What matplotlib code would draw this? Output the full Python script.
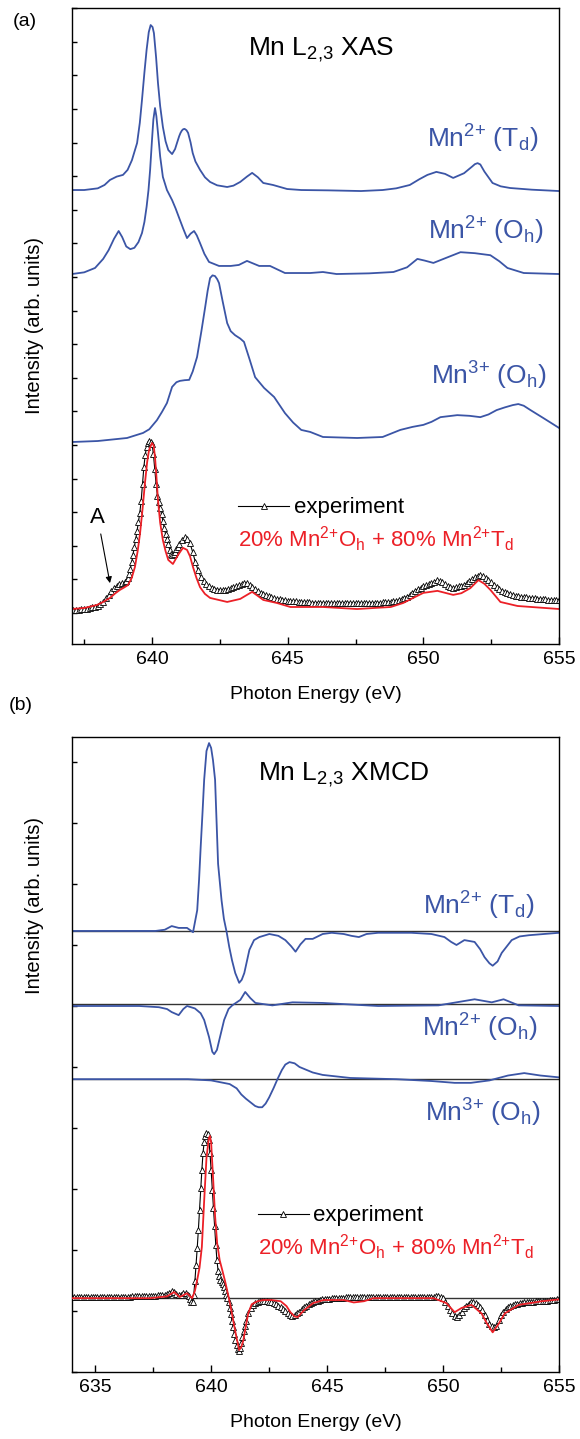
import numpy as np
import matplotlib
matplotlib.use("Agg")
import matplotlib.pyplot as plt
from matplotlib.ticker import MultipleLocator
from matplotlib.lines import Line2D

plt.rcParams['font.family'] = ['Liberation Sans', 'DejaVu Sans']
plt.rcParams['mathtext.fontset'] = 'custom'
plt.rcParams['mathtext.rm'] = 'Liberation Sans'
plt.rcParams['mathtext.it'] = 'Liberation Sans:italic'
plt.rcParams['mathtext.bf'] = 'Liberation Sans:bold'

BLUE = '#3b55a6'
RED = '#ec2027'

# ---------------- (a) Mn L2,3 XAS ----------------
# energies in eV, intensities in arb. units above each curve's own baseline
e_td_a = [637.0, 637.5, 638.0, 638.25, 638.45, 638.7, 638.93, 639.1, 639.26, 639.45,
          639.55, 639.63, 639.72, 639.8, 639.88, 639.95, 640.02, 640.07, 640.15, 640.22,
          640.3, 640.4, 640.5, 640.6, 640.74, 640.85, 640.92, 641.0, 641.05, 641.1,
          641.15, 641.2, 641.27, 641.33, 641.42, 641.5, 641.6, 641.77, 641.95, 642.14,
          642.4, 642.77, 643.0, 643.25, 643.5, 643.69, 643.9, 644.1, 644.46, 644.98,
          645.5, 646.5, 647.7, 648.5, 649.0, 649.5, 649.85, 650.15, 650.48, 650.8,
          651.1, 651.5, 651.8, 651.9, 652.0, 652.1, 652.25, 652.55, 652.85, 653.2,
          654.0, 655.0]
i_td_a = [0.0, 0.0, 0.05, 0.15, 0.30, 0.40, 0.45, 0.6, 0.89, 1.40,
          2.0, 2.68, 3.5, 4.17, 4.7, 4.91, 4.85, 4.67, 3.95, 3.18,
          2.5, 1.88, 1.45, 1.19, 1.07, 1.22, 1.40, 1.6, 1.7, 1.77,
          1.81, 1.82, 1.78, 1.70, 1.42, 1.10, 0.85, 0.60, 0.38, 0.24,
          0.14, 0.09, 0.13, 0.24, 0.40, 0.51, 0.38, 0.21, 0.15, 0.03,
          0.0, -0.01, -0.03, 0.0, 0.05, 0.15, 0.32, 0.45, 0.54, 0.48,
          0.36, 0.5, 0.7, 0.77, 0.80, 0.76, 0.55, 0.21, 0.11, 0.06,
          0.01, -0.03]

e_oh_a = [637.05, 637.5, 637.9, 638.2, 638.4, 638.6, 638.77, 638.9, 639.05, 639.2,
          639.35, 639.5, 639.63, 639.72, 639.8, 639.87, 639.93, 640.0, 640.05, 640.11,
          640.16, 640.22, 640.3, 640.4, 640.55, 640.74, 640.87, 641.0, 641.15, 641.29,
          641.42, 641.55, 641.65, 641.77, 641.93, 642.1, 642.47, 642.9, 643.2, 643.5,
          643.95, 644.35, 644.9, 645.83, 646.3, 646.8, 648.0, 648.9, 649.4, 649.78,
          650.05, 650.37, 650.9, 651.37, 651.9, 652.47, 652.8, 653.1, 653.7, 655.0]
i_oh_a = [0.0, 0.05, 0.18, 0.45, 0.71, 1.05, 1.28, 1.1, 0.82, 0.74,
          0.78, 0.95, 1.22, 1.55, 2.0, 2.5, 3.10, 4.0, 4.6, 4.94,
          4.7, 4.20, 3.5, 2.89, 2.5, 2.2, 1.95, 1.67, 1.35, 1.07,
          1.2, 1.28, 1.15, 0.92, 0.6, 0.36, 0.24, 0.24, 0.27, 0.39,
          0.24, 0.24, 0.03, 0.03, 0.06, 0.0, 0.02, 0.06, 0.2, 0.45,
          0.4, 0.33, 0.5, 0.65, 0.62, 0.56, 0.38, 0.18, 0.03, 0.0]

e_m3_a = [637.05, 638.0, 639.08, 639.67, 639.9, 640.18, 640.37, 640.55, 640.74, 640.9,
          641.03, 641.2, 641.37, 641.5, 641.66, 641.82, 641.96, 642.05, 642.14, 642.23,
          642.32, 642.4, 642.47, 642.6, 642.77, 642.9, 643.06, 643.25, 643.39, 643.6,
          643.8, 644.13, 644.5, 644.9, 645.2, 645.5, 645.83, 646.3, 647.56, 648.5,
          649.15, 649.6, 650.0, 650.3, 650.63, 651.25, 651.7, 652.1, 652.4, 652.7,
          653.0, 653.3, 653.5, 653.7, 653.95, 654.43, 655.0]
i_m3_a = [0.0, 0.03, 0.12, 0.27, 0.38, 0.65, 0.9, 1.16, 1.64, 1.78,
          1.82, 1.84, 1.85, 2.1, 2.53, 3.3, 4.02, 4.5, 4.88, 4.96,
          4.94, 4.85, 4.73, 4.2, 3.54, 3.3, 3.18, 3.08, 2.98, 2.45,
          1.93, 1.61, 1.34, 0.86, 0.58, 0.36, 0.30, 0.15, 0.12, 0.15,
          0.36, 0.45, 0.51, 0.6, 0.74, 0.80, 0.78, 0.74, 0.82, 0.95,
          1.03, 1.10, 1.13, 1.08, 0.95, 0.71, 0.42]

e_exp_a = [637.0, 637.1, 637.2, 637.3, 637.4, 637.5, 637.6, 637.7, 637.8, 637.9,
           638.0, 638.1, 638.2, 638.3, 638.4, 638.5, 638.6, 638.7, 638.8, 638.9,
           639.0, 639.05, 639.1, 639.15, 639.2, 639.25, 639.3, 639.35, 639.4, 639.45,
           639.5, 639.55, 639.6, 639.65, 639.7, 639.75, 639.8, 639.85, 639.9, 639.95,
           640.0, 640.05, 640.1, 640.15, 640.2, 640.25, 640.3, 640.35, 640.4, 640.45,
           640.5, 640.55, 640.6, 640.65, 640.7, 640.75, 640.8, 640.85, 640.9, 640.95,
           641.0, 641.1, 641.2, 641.3, 641.4, 641.5, 641.6, 641.7, 641.8, 641.9,
           642.0, 642.1, 642.2, 642.3, 642.4, 642.5, 642.6, 642.7, 642.8, 642.9,
           643.0, 643.1, 643.2, 643.3, 643.4, 643.5, 643.6, 643.7, 643.8, 643.9,
           644.0, 644.1, 644.2, 644.3, 644.4, 644.5, 644.6, 644.7, 644.8, 644.9,
           645.0, 645.1, 645.2, 645.3, 645.4, 645.5, 645.6, 645.7, 645.8, 645.9,
           646.0, 646.1, 646.2, 646.3, 646.4, 646.5, 646.6, 646.7, 646.8, 646.9,
           647.0, 647.1, 647.2, 647.3, 647.4, 647.5, 647.6, 647.7, 647.8, 647.9,
           648.0, 648.1, 648.2, 648.3, 648.4, 648.5, 648.6, 648.7, 648.8, 648.9,
           649.0, 649.1, 649.2, 649.3, 649.4, 649.5, 649.6, 649.7, 649.8, 649.9,
           650.0, 650.1, 650.2, 650.3, 650.4, 650.5, 650.6, 650.7, 650.8, 650.9,
           651.0, 651.1, 651.2, 651.3, 651.4, 651.5, 651.6, 651.7, 651.8, 651.9,
           652.0, 652.1, 652.2, 652.3, 652.4, 652.5, 652.6, 652.7, 652.8, 652.9,
           653.0, 653.1, 653.2, 653.3, 653.4, 653.5, 653.6, 653.7, 653.8, 653.9,
           654.0, 654.1, 654.2, 654.3, 654.4, 654.5, 654.6, 654.7, 654.8, 654.9,
           655.0]
i_exp_a = [0.00, 0.00, 0.01, 0.01, 0.02, 0.03, 0.04, 0.06, 0.08, 0.10,
           0.13, 0.18, 0.25, 0.35, 0.45, 0.56, 0.65, 0.72, 0.76, 0.79,
           0.82, 0.87, 0.95, 1.06, 1.22, 1.42, 1.65, 1.88, 2.12, 2.36,
           2.62, 2.90, 3.25, 3.75, 4.26, 4.62, 4.85, 4.98, 5.02, 5.01,
           4.95, 4.65, 4.20, 3.75, 3.40, 3.20, 3.05, 2.85, 2.65, 2.45,
           2.25, 2.10, 1.95, 1.80, 1.68, 1.64, 1.66, 1.74, 1.82, 1.89,
           1.95, 2.08, 2.16, 2.12, 1.99, 1.72, 1.42, 1.18, 0.98, 0.85,
           0.76, 0.71, 0.67, 0.64, 0.61, 0.60, 0.60, 0.61, 0.63, 0.65,
           0.68, 0.71, 0.74, 0.77, 0.80, 0.79, 0.75, 0.69, 0.63, 0.57,
           0.52, 0.48, 0.44, 0.41, 0.38, 0.35, 0.33, 0.32, 0.30, 0.29,
           0.28, 0.27, 0.26, 0.26, 0.25, 0.24, 0.24, 0.23, 0.23, 0.22,
           0.22, 0.22, 0.21, 0.21, 0.21, 0.21, 0.21, 0.21, 0.21, 0.21,
           0.21, 0.21, 0.21, 0.21, 0.21, 0.21, 0.21, 0.21, 0.21, 0.21,
           0.22, 0.22, 0.22, 0.22, 0.22, 0.23, 0.23, 0.24, 0.25, 0.26,
           0.28, 0.30, 0.33, 0.37, 0.40, 0.45, 0.52, 0.58, 0.62, 0.66,
           0.70, 0.73, 0.76, 0.80, 0.84, 0.89, 0.87, 0.82, 0.77, 0.72,
           0.68, 0.67, 0.68, 0.70, 0.72, 0.75, 0.80, 0.86, 0.92, 0.98,
           1.02, 1.03, 1.00, 0.95, 0.88, 0.82, 0.75, 0.69, 0.63, 0.58,
           0.55, 0.51, 0.49, 0.46, 0.43, 0.41, 0.40, 0.39, 0.38, 0.37,
           0.36, 0.35, 0.34, 0.33, 0.32, 0.32, 0.31, 0.31, 0.30, 0.30,
           0.30]

e_fit_a = [637.05, 637.5, 637.97, 638.2, 638.45, 638.65, 638.82, 638.95, 639.11, 639.25,
           639.37, 639.47, 639.56, 639.65, 639.74, 639.82, 639.89, 640.0, 640.06, 640.11,
           640.16, 640.22, 640.3, 640.4, 640.5, 640.6, 640.77, 640.96, 641.14, 641.29,
           641.4, 641.51, 641.64, 641.77, 641.95, 642.14, 642.77, 643.25, 643.5, 643.69,
           643.9, 644.1, 644.6, 645.1, 646.3, 647.56, 648.8, 649.26, 649.6, 650.0,
           650.52, 651.1, 651.4, 651.73, 652.03, 652.25, 652.47, 652.84, 653.47, 655.0]
i_fit_a = [0.03, 0.06, 0.15, 0.24, 0.36, 0.5, 0.6, 0.66, 0.74, 0.95,
           1.28, 1.75, 2.29, 3.0, 3.78, 4.4, 4.76, 4.97, 4.9, 4.55,
           4.0, 3.27, 2.6, 2.08, 1.75, 1.49, 1.37, 1.64, 1.85, 1.79,
           1.6, 1.28, 0.95, 0.68, 0.48, 0.36, 0.24, 0.33, 0.45, 0.54,
           0.42, 0.30, 0.21, 0.09, 0.09, 0.03, 0.09, 0.21, 0.35, 0.51,
           0.57, 0.45, 0.5, 0.65, 0.89, 0.78, 0.60, 0.24, 0.12, 0.03]

# vertical offsets of the stacked spectra
off_td_a, off_oh_a, off_m3_a, off_exp_a = 12.59, 10.09, 5.09, 0.09

# ---------------- (b) Mn L2,3 XMCD ----------------
e_td_b = [634.0, 636.0, 637.6, 638.0, 638.3, 638.6, 638.96, 639.22, 639.4, 639.48,
          639.55, 639.63, 639.7, 639.8, 639.91, 640.0, 640.08, 640.17, 640.3, 640.45,
          640.55, 640.67, 640.78, 640.9, 641.04, 641.21, 641.32, 641.43, 641.65, 641.85,
          642.08, 642.51, 642.9, 643.2, 643.45, 643.64, 643.85, 644.07, 644.38, 644.81,
          645.2, 645.72, 646.05, 646.37, 646.7, 647.2, 648.63, 649.5, 650.06, 650.35,
          650.58, 650.92, 651.36, 651.6, 651.79, 652.0, 652.14, 652.35, 652.53, 652.96,
          653.3, 653.7, 655.0]
i_td_b = [0.0, 0.0, 0.0, 0.02, 0.08, 0.05, 0.05, -0.02, 0.34, 0.84,
          1.38, 1.95, 2.48, 2.95, 3.08, 3.0, 2.8, 2.48, 1.1, 0.5,
          0.2, -0.02, -0.26, -0.48, -0.69, -0.85, -0.8, -0.69, -0.31, -0.15,
          -0.1, -0.05, -0.08, -0.15, -0.25, -0.34, -0.22, -0.13, -0.13, -0.05,
          -0.03, -0.05, -0.08, -0.1, -0.05, -0.03, -0.03, -0.05, -0.1, -0.18,
          -0.23, -0.15, -0.18, -0.3, -0.43, -0.53, -0.57, -0.5, -0.36, -0.15,
          -0.09, -0.07, -0.03]

e_oh_b = [634.0, 636.9, 637.75, 638.1, 638.3, 638.6, 638.8, 638.96, 639.3, 639.55,
          639.7, 639.91, 640.05, 640.13, 640.25, 640.35, 640.56, 640.75, 640.91, 641.26,
          641.47, 641.69, 641.91, 642.64, 643.51, 644.81, 647.2, 649.8, 651.36, 652.1,
          652.61, 653.26, 655.0]
i_oh_b = [-0.03, -0.03, -0.05, -0.08, -0.13, -0.18, -0.08, -0.03, -0.07, -0.15,
          -0.26, -0.54, -0.78, -0.82, -0.75, -0.59, -0.26, -0.08, -0.02, 0.07,
          0.2, 0.10, 0.02, -0.02, 0.03, 0.02, -0.03, -0.02, 0.08, 0.03,
          0.08, -0.02, -0.03]

e_m3_b = [634.0, 637.0, 639.0, 640.0, 640.8, 641.1, 641.3, 641.5, 641.7, 641.9,
          642.05, 642.2, 642.35, 642.5, 642.7, 642.86, 643.05, 643.2, 643.38, 643.6,
          643.81, 644.38, 644.81, 646.0, 648.0, 649.5, 650.5, 651.2, 652.0, 652.8,
          653.5, 654.2, 655.0]
i_m3_b = [0.0, 0.0, 0.0, -0.02, -0.08, -0.15, -0.25, -0.32, -0.38, -0.44,
          -0.46, -0.46, -0.4, -0.3, -0.14, 0.0, 0.15, 0.24, 0.28, 0.26,
          0.2, 0.11, 0.07, 0.02, 0.0, -0.03, -0.06, -0.06, -0.02, 0.06,
          0.1, 0.06, 0.03]

e_exp_b = [634.0, 634.1, 634.2, 634.3, 634.4, 634.5, 634.6, 634.7, 634.8, 634.9,
           635.0, 635.1, 635.2, 635.3, 635.4, 635.5, 635.6, 635.7, 635.8, 635.9,
           636.0, 636.1, 636.2, 636.3, 636.4, 636.5, 636.6, 636.7, 636.8, 636.9,
           637.0, 637.1, 637.2, 637.3, 637.4, 637.5, 637.6, 637.7, 637.8, 637.9,
           638.0, 638.1, 638.2, 638.3, 638.4, 638.5, 638.6, 638.7, 638.8, 638.9,
           639.0, 639.05, 639.1, 639.15, 639.2, 639.25, 639.3, 639.35, 639.4, 639.45,
           639.5, 639.55, 639.6, 639.65, 639.7, 639.75, 639.8, 639.85, 639.9, 639.95,
           640.0, 640.05, 640.1, 640.15, 640.2, 640.25, 640.3, 640.35, 640.4, 640.45,
           640.5, 640.55, 640.6, 640.65, 640.7, 640.75, 640.8, 640.85, 640.9, 640.95,
           641.0, 641.05, 641.1, 641.15, 641.2, 641.25, 641.3, 641.35, 641.4, 641.45,
           641.5, 641.6, 641.7, 641.8, 641.9,
           642.0, 642.1, 642.2, 642.3, 642.4, 642.5, 642.6, 642.7, 642.8, 642.9,
           643.0, 643.1, 643.2, 643.3, 643.4, 643.5, 643.6, 643.7, 643.8, 643.9,
           644.0, 644.1, 644.2, 644.3, 644.4, 644.5, 644.6, 644.7, 644.8, 644.9,
           645.0, 645.1, 645.2, 645.3, 645.4, 645.5, 645.6, 645.7, 645.8, 645.9,
           646.0, 646.1, 646.2, 646.3, 646.4, 646.5, 646.6, 646.7, 646.8, 646.9,
           647.0, 647.1, 647.2, 647.3, 647.4, 647.5, 647.6, 647.7, 647.8, 647.9,
           648.0, 648.1, 648.2, 648.3, 648.4, 648.5, 648.6, 648.7, 648.8, 648.9,
           649.0, 649.1, 649.2, 649.3, 649.4, 649.5, 649.6, 649.7, 649.8, 649.9,
           650.0, 650.1, 650.2, 650.3, 650.4, 650.5, 650.6, 650.7, 650.8, 650.9,
           651.0, 651.1, 651.2, 651.3, 651.4, 651.5, 651.6, 651.7, 651.8, 651.9,
           652.0, 652.1, 652.2, 652.3, 652.4, 652.5, 652.6, 652.7, 652.8, 652.9,
           653.0, 653.1, 653.2, 653.3, 653.4, 653.5, 653.6, 653.7, 653.8, 653.9,
           654.0, 654.1, 654.2, 654.3, 654.4, 654.5, 654.6, 654.7, 654.8, 654.9,
           655.0]
i_exp_b = [0.02, 0.02, 0.02, 0.02, 0.02, 0.02, 0.02, 0.02, 0.02, 0.02,
           0.02, 0.02, 0.02, 0.02, 0.02, 0.02, 0.02, 0.02, 0.02, 0.02,
           0.02, 0.02, 0.02, 0.02, 0.02, 0.02, 0.03, 0.03, 0.03, 0.03,
           0.03, 0.03, 0.03, 0.03, 0.04, 0.04, 0.04, 0.05, 0.05, 0.05,
           0.06, 0.07, 0.09, 0.12, 0.10, 0.07, 0.05, 0.06, 0.08, 0.08,
           0.06, 0.03, -0.02, -0.06, -0.07, 0.05, 0.28, 0.55, 0.82, 1.12,
           1.45, 1.80, 2.10, 2.38, 2.56, 2.66, 2.70, 2.69, 2.60, 2.38,
           2.10, 1.78, 1.48, 1.18, 0.88, 0.62, 0.45, 0.36, 0.30, 0.27,
           0.23, 0.18, 0.12, 0.06, 0.00, -0.07, -0.16, -0.26, -0.38, -0.48,
           -0.58, -0.68, -0.77, -0.84, -0.86, -0.82, -0.74, -0.64, -0.54, -0.45,
           -0.37, -0.25, -0.16, -0.11, -0.08,
           -0.06, -0.05, -0.04, -0.04, -0.05, -0.06, -0.07, -0.08, -0.10, -0.12,
           -0.15, -0.18, -0.21, -0.25, -0.28, -0.29, -0.28, -0.25, -0.22, -0.18,
           -0.15, -0.12, -0.10, -0.08, -0.06, -0.05, -0.04, -0.03, -0.02, -0.02,
           -0.01, -0.01, 0.00, 0.00, 0.00, 0.01, 0.01, 0.01, 0.02, 0.02,
           0.02, 0.02, 0.02, 0.02, 0.02, 0.02, 0.02, 0.02, 0.02, 0.02,
           0.02, 0.02, 0.02, 0.02, 0.02, 0.02, 0.02, 0.02, 0.02, 0.02,
           0.02, 0.02, 0.02, 0.02, 0.02, 0.02, 0.02, 0.02, 0.02, 0.02,
           0.02, 0.02, 0.02, 0.02, 0.02, 0.02, 0.02, 0.03, 0.03, 0.02,
           0.00, -0.06, -0.12, -0.19, -0.25, -0.29, -0.31, -0.28, -0.22, -0.16,
           -0.12, -0.09, -0.07, -0.07, -0.08, -0.11, -0.14, -0.20, -0.28, -0.36,
           -0.42, -0.46, -0.48, -0.45, -0.36, -0.28, -0.22, -0.17, -0.14, -0.12,
           -0.11, -0.10, -0.09, -0.08, -0.08, -0.07, -0.07, -0.06, -0.06, -0.06,
           -0.05, -0.05, -0.05, -0.05, -0.04, -0.04, -0.03, -0.03, -0.03, -0.02,
           -0.02]

e_fit_b = [634.0, 637.36, 638.1, 638.4, 638.65, 638.96, 639.18, 639.3, 639.4, 639.5,
           639.6, 639.7, 639.8, 639.9, 639.95, 640.0, 640.09, 640.17, 640.26, 640.37,
           640.48, 640.6, 640.69, 640.82, 640.95, 641.08, 641.21, 641.3, 641.39, 641.5,
           641.6, 641.75, 642.0, 642.25, 642.6, 643.0, 643.25, 643.42, 643.6, 643.73,
           644.0, 644.4, 644.85, 645.72, 646.15, 646.59, 647.0, 649.6, 650.14, 650.5,
           650.8, 651.23, 651.66, 651.9, 652.14, 652.4, 652.66, 653.26, 654.26, 655.0]
i_fit_b = [0.0, 0.0, 0.03, 0.1, 0.02, 0.08, 0.0, 0.12, 0.3, 0.5,
           0.84, 1.6, 2.3, 2.62, 2.66, 2.55, 1.93, 1.35, 0.9, 0.62,
           0.46, 0.28, 0.13, -0.1, -0.36, -0.62, -0.85, -0.8, -0.69, -0.45,
           -0.25, -0.1, -0.05, -0.03, -0.03, -0.05, -0.13, -0.23, -0.3, -0.31,
           -0.2, -0.08, -0.03, -0.03, -0.07, -0.05, 0.0, 0.0, -0.08, -0.23,
           -0.16, -0.11, -0.25, -0.42, -0.56, -0.42, -0.25, -0.11, -0.05, -0.02]

# zero lines of the stacked XMCD spectra
off_td_b, off_oh_b, off_m3_b, off_exp_b = 6.23, 5.03, 3.80, 0.21

fig = plt.figure(figsize=(5.8, 14.39), dpi=100)
ax1 = fig.add_axes([0.1241, 0.5525, 0.8397, 0.4420])
ax2 = fig.add_axes([0.1241, 0.04656, 0.8397, 0.4413])

exp_style = dict(color='k', lw=0.8, marker='^', ms=4.0, mfc='white', mec='k', mew=0.6)

# panel (a)
ax1.plot(e_td_a, np.array(i_td_a) + off_td_a, color=BLUE, lw=1.3)
ax1.plot(e_oh_a, np.array(i_oh_a) + off_oh_a, color=BLUE, lw=1.3)
ax1.plot(e_m3_a, np.array(i_m3_a) + off_m3_a, color=BLUE, lw=1.3)
ax1.plot(e_exp_a, np.array(i_exp_a) + off_exp_a, **exp_style)
ax1.plot(e_fit_a, np.array(i_fit_a) + off_exp_a, color=RED, lw=1.3)
ax1.set_xlim(637.05, 655)
ax1.set_ylim(-0.92, 18.01)

# panel (b)
for off in (off_td_b, off_oh_b, off_m3_b, off_exp_b):
    ax2.axhline(off, color='#333333', lw=1.0, zorder=1)
ax2.plot(e_td_b, np.array(i_td_b) + off_td_b, color=BLUE, lw=1.3, zorder=2)
ax2.plot(e_oh_b, np.array(i_oh_b) + off_oh_b, color=BLUE, lw=1.3, zorder=2)
ax2.plot(e_m3_b, np.array(i_m3_b) + off_m3_b, color=BLUE, lw=1.3, zorder=2)
ax2.plot(e_exp_b, np.array(i_exp_b) + off_exp_b, zorder=2, **exp_style)
ax2.plot(e_fit_b, np.array(i_fit_b) + off_exp_b, color=RED, lw=1.3, zorder=3)
ax2.set_xlim(634, 655)
ax2.set_ylim(-1.0, 9.41)

for ax in (ax1, ax2):
    ax.xaxis.set_major_locator(MultipleLocator(5))
    ax.xaxis.set_minor_locator(MultipleLocator(2.5))
    ax.yaxis.set_major_locator(MultipleLocator(1))
    ax.tick_params(which='both', direction='in', top=False, right=False, width=1.0)
    ax.tick_params(which='major', length=5, labelsize=14, pad=5)
    ax.tick_params(which='minor', length=3.5)
    ax.tick_params(axis='y', length=3.5, labelleft=False)
    for s in ax.spines.values():
        s.set_linewidth(1.0)
    ax.set_xlabel('Photon Energy (eV)', fontsize=14)
    ax.set_ylabel('Intensity (arb. units)', fontsize=14.5)
    ax.xaxis.set_label_coords(0.5, -0.066)

ax1.yaxis.set_label_coords(-0.058, 0.5)
ax2.yaxis.set_label_coords(-0.058, 0.735)

# titles and curve labels
ax1.text(0.361, 0.926, 'Mn L$_{2{,}3}$ XAS', transform=ax1.transAxes, fontsize=19, va='baseline')
ax2.text(0.381, 0.932, 'Mn L$_{2{,}3}$ XMCD', transform=ax2.transAxes, fontsize=19, va='baseline')

lab_kw = dict(color=BLUE, fontsize=19, va='baseline', ha='left')
ax1.text(0.729, 0.780, 'Mn$^{2{+}}$ (T$_{\\mathrm{d}}$)', transform=ax1.transAxes, **lab_kw)
ax1.text(0.731, 0.635, 'Mn$^{2{+}}$ (O$_{\\mathrm{h}}$)', transform=ax1.transAxes, **lab_kw)
ax1.text(0.737, 0.407, 'Mn$^{3{+}}$ (O$_{\\mathrm{h}}$)', transform=ax1.transAxes, **lab_kw)
ax2.text(0.721, 0.720, 'Mn$^{2{+}}$ (T$_{\\mathrm{d}}$)', transform=ax2.transAxes, **lab_kw)
ax2.text(0.719, 0.528, 'Mn$^{2{+}}$ (O$_{\\mathrm{h}}$)', transform=ax2.transAxes, **lab_kw)
ax2.text(0.725, 0.394, 'Mn$^{3{+}}$ (O$_{\\mathrm{h}}$)', transform=ax2.transAxes, **lab_kw)

# legend-like key for experiment and the fit text
h_exp = Line2D([], [], **exp_style)
fit_txt = '20% Mn$^{2{+}}$O$_{\\mathrm{h}}$ + 80% Mn$^{2{+}}$T$_{\\mathrm{d}}$'
for ax, lx, ly, ty in ((ax1, 0.341, 0.214, 0.1525), (ax2, 0.381, 0.246, 0.184)):
    ax.legend([h_exp], ['experiment'], loc='center left', bbox_to_anchor=(lx, ly),
              frameon=False, fontsize=16, handlelength=2.3, handletextpad=0.2,
              borderpad=0, borderaxespad=0, numpoints=1)
    ax.text(lx, ty, fit_txt, transform=ax.transAxes, color=RED, fontsize=16, va='baseline')

# arrow marking feature A
ax1.annotate('A', xy=(638.45, 0.89), xytext=(638.0, 2.83), fontsize=16,
             ha='center', va='center',
             arrowprops=dict(arrowstyle='-|>', color='k', lw=0.8, mutation_scale=9,
                             shrinkA=2, shrinkB=0))

fig.text(25 / 580, 1 - 22 / 1439, '(a)', fontsize=14, ha='center', va='center')
fig.text(21 / 580, 1 - 705 / 1439, '(b)', fontsize=14, ha='center', va='center')

fig.savefig('out.png', dpi=100)
